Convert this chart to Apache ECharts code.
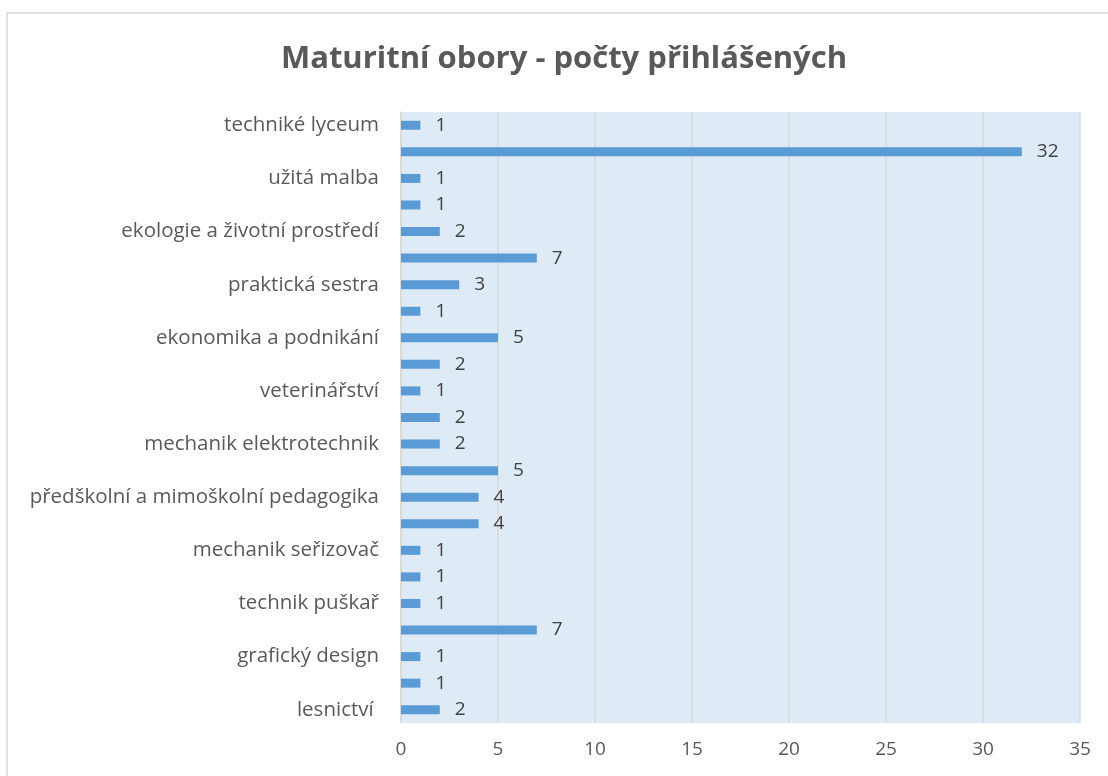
<!DOCTYPE html>
<html>
<head>
<meta charset="utf-8">
<script src="https://cdn.jsdelivr.net/npm/echarts@6/dist/echarts.min.js"></script>
<style>html,body{margin:0;padding:0;background:#fff}#c{width:1108px;height:776px}</style>
</head>
<body>
<div id="c"></div>
<script>
// categories from bottom to top; rows without a visible label in the reference are empty strings
const categories = ['lesnictví ', '', 'grafický design', '', 'technik puškař', '', 'mechanik seřizovač', '',
  'předškolní a mimoškolní pedagogika', '', 'mechanik elektrotechnik', '', 'veterinářství', '',
  'ekonomika a podnikání', '', 'praktická sestra', '', 'ekologie a životní prostředí', '',
  'užitá malba', '', 'techniké lyceum'];
const counts = [2, 1, 1, 7, 1, 1, 1, 4, 4, 5, 2, 2, 1, 2, 5, 1, 3, 7, 2, 1, 1, 32, 1];
const xTicks = [0, 5, 10, 15, 20, 25, 30, 35];
const titleText = 'Maturitní obory - počty přihlášených';

// unique keys for the unlabeled rows
const catKeys = categories.map((c, i) => c === '' ? ' '.repeat(i + 2) : c);

const chart = echarts.init(document.getElementById('c'));
const FONT = '"Open Sans", "Noto Sans", sans-serif';
chart.setOption({
  animation: false,
  textStyle: { fontFamily: FONT },
  title: {
    text: titleText, left: 559, top: 39, textAlign: 'center',
    textStyle: { fontSize: 31, fontWeight: 'bold', color: '#595959', fontFamily: FONT }
  },
  graphic: [{
    type: 'rect', shape: { x: 7, y: 13, width: 1200, height: 900 },
    style: { fill: 'none', stroke: '#d9d9d9', lineWidth: 1.5 }, silent: true
  }],
  grid: { left: 401, right: 28, top: 112, bottom: 53, backgroundColor: '#DEEBF7', show: true, borderWidth: 0 },
  xAxis: {
    type: 'value', min: 0, max: 35, interval: 5,
    axisLine: { show: false }, axisTick: { show: false },
    splitLine: { show: true, lineStyle: { color: '#d9d9d9', width: 1.5 } },
    axisLabel: { fontSize: 19, color: '#595959', margin: 17, fontFamily: FONT,
      formatter: v => xTicks.includes(v) ? String(v) : '' }
  },
  yAxis: {
    type: 'category', data: catKeys,
    axisLine: { show: true, lineStyle: { color: '#d9d9d9', width: 1.5 } },
    axisTick: { show: false },
    axisLabel: { interval: 0, fontSize: 20.5, color: '#595959', margin: 22, fontFamily: FONT,
      formatter: v => v.trim() === '' ? '' : v }
  },
  series: [{
    type: 'bar', data: counts, barWidth: 9,
    itemStyle: { color: '#5B9BD5' },
    label: { show: true, position: 'right', distance: 15, fontSize: 19, color: '#404040', fontFamily: FONT }
  }]
});
</script>
</body>
</html>
